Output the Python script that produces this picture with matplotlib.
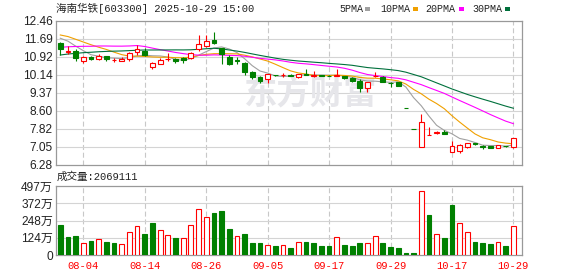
import matplotlib
matplotlib.use("Agg")
import matplotlib.pyplot as plt
from matplotlib.patches import Rectangle
import numpy as np
import pandas as pd

# ---------------- data ----------------
dates = ["07-30", "07-31", "08-01",
         "08-04", "08-05", "08-06", "08-07", "08-08",
         "08-11", "08-12", "08-13", "08-14", "08-15",
         "08-18", "08-19", "08-20", "08-21", "08-22",
         "08-25", "08-26", "08-27", "08-28", "08-29",
         "09-01", "09-02", "09-03", "09-04", "09-05",
         "09-08", "09-09", "09-10", "09-11", "09-12",
         "09-15", "09-16", "09-17", "09-18", "09-19",
         "09-22", "09-23", "09-24", "09-25", "09-26",
         "09-29", "09-30", "10-09", "10-10",
         "10-13", "10-14", "10-15", "10-16", "10-17",
         "10-20", "10-21", "10-22", "10-23", "10-24",
         "10-27", "10-28", "10-29"]

open_ = [11.52, 11.13, 11.19, 10.76, 10.92, 10.84, 10.96, 10.78, 10.73, 10.83,
         11.13, 11.17, 10.50, 10.62, 10.83, 10.84, 10.86, 10.87, 11.26, 11.40,
         11.65, 11.29, 10.93, 10.80, 10.64, 10.25, 10.04, 9.96, 10.15, 10.14,
         10.16, 10.06, 10.20, 10.10, 10.14, 10.12, 10.11, 10.10, 10.03, 9.88,
         9.57, 10.09, 10.04, 9.80, 9.83, 8.71, 7.84, 7.07, 7.56, 7.67,
         7.71, 6.85, 6.90, 7.07, 7.22, 7.10, 7.09, 7.02, 7.10, 7.07]
high = [11.55, 11.39, 11.25, 10.96, 10.94, 11.03, 10.97, 10.87, 10.90, 11.14,
        11.42, 11.30, 10.70, 10.86, 11.07, 10.86, 10.92, 11.13, 11.87, 11.87,
        11.97, 11.30, 10.99, 10.93, 10.71, 10.32, 10.11, 10.20, 10.16, 10.22,
        10.18, 10.19, 10.39, 10.31, 10.16, 10.13, 10.40, 10.12, 10.05, 9.97,
        9.85, 10.28, 10.12, 9.85, 9.84, 8.71, 7.84, 8.47, 7.90, 7.75,
        7.78, 7.31, 7.17, 7.22, 7.23, 7.12, 7.11, 7.14, 7.11, 7.43]
low = [11.00, 11.03, 10.76, 10.67, 10.77, 10.77, 10.76, 10.69, 10.73, 10.76,
       11.00, 10.96, 10.41, 10.60, 10.76, 10.65, 10.65, 10.84, 11.19, 11.33,
       11.46, 10.63, 10.58, 10.63, 10.16, 9.97, 9.80, 9.79, 10.11, 10.07,
       10.10, 10.03, 10.14, 10.07, 10.10, 10.08, 10.10, 9.98, 9.83, 9.43,
       9.43, 10.04, 9.84, 9.61, 9.66, 8.71, 7.84, 7.06, 7.56, 7.61,
       7.62, 6.85, 6.78, 7.02, 7.15, 6.95, 7.00, 7.00, 7.06, 7.02]
close = [11.25, 11.17, 10.89, 10.92, 10.83, 10.94, 10.84, 10.79, 10.83, 11.07,
         11.26, 11.01, 10.67, 10.79, 10.84, 10.76, 10.80, 11.07, 11.49, 11.61,
         11.53, 11.04, 10.62, 10.73, 10.28, 10.04, 9.90, 10.17, 10.13, 10.15,
         10.12, 10.17, 10.16, 10.14, 10.12, 10.10, 10.13, 10.00, 9.88, 9.57,
         9.83, 10.11, 9.85, 9.78, 9.68, 8.71, 7.84, 8.11, 7.57, 7.69,
         7.62, 7.10, 7.12, 7.21, 7.17, 7.05, 7.03, 7.12, 7.08, 7.42]
# closes of the 29 sessions before the window (estimated from the MA lines)
hist_close = [9.90, 10.00, 10.08, 10.25, 10.30, 10.40, 10.45, 10.60, 10.62, 10.80,
              10.70, 10.65, 10.75, 10.80, 10.70, 10.85, 10.90, 10.85, 10.90, 10.90,
              11.85, 12.05, 12.10, 12.00, 12.00, 11.80, 11.95, 11.90, 11.70]
volume_wan = [216, 130, 137, 84, 103, 113, 94, 86, 77, 166,
              206, 151, 230, 178, 142, 122, 120, 214, 329, 271,
              302, 317, 187, 134, 151, 86, 86, 70, 65, 70,
              50, 91, 94, 86, 65, 65, 127, 72, 65, 86,
              84, 134, 86, 58, 50, 14, 14, 458, 288, 149,
              122, 360, 228, 163, 94, 86, 79, 91, 65, 206.9111]
last_volume = 2069111

price_tick_labels = ["6.28", "7.05", "7.82", "8.60", "9.37", "10.14", "10.92", "11.69", "12.46"]
vol_tick_labels = ["0", "124万", "248万", "372万", "497万"]
date_tick_labels = ["08-04", "08-14", "08-26", "09-05", "09-17", "09-29", "10-17", "10-29"]
ma_periods = [5, 10, 20, 30]
ma_names = ["5PMA", "10PMA", "20PMA", "30PMA"]
title = "海南华铁[603300] 2025-10-29 15:00"

# ---------------- style ----------------
W, H = 578, 276
RED = "#ff0000"
GREEN = "#008000"
MA_COLORS = ["#a0a0a0", "#f0a000", "#ff00ff", "#00703c"]
FRAME = "#999999"
GRID = "#d4d4d4"
VGRID = "#c8c8c8"
MONO = ["Liberation Mono", "Noto Sans CJK SC"]
SANS = ["Liberation Sans", "Noto Sans CJK SC"]


def fx(x):
    return x / W


def fy(y):
    return 1 - y / H


fig = plt.figure(figsize=(W / 100, H / 100), dpi=100)
fig.patch.set_facecolor("white")

ax_p = fig.add_axes([fx(56), fy(165), (522 - 56) / W, (165 - 21) / H])
ax_v = fig.add_axes([fx(56), fy(255), (522 - 56) / W, (255 - 186) / H])

n = len(close)
x = np.arange(n)
xlim = (-0.56, 60.12)

p_lo, p_hi = float(price_tick_labels[0]), float(price_tick_labels[-1])
p_ticks = np.linspace(p_lo, p_hi, len(price_tick_labels))
v_top = float(vol_tick_labels[-1].replace("万", ""))
v_ticks = np.linspace(0, v_top, len(vol_tick_labels))
date_idx = [dates.index(d) for d in date_tick_labels]

for ax in (ax_p, ax_v):
    ax.set_xlim(*xlim)
    for s in ax.spines.values():
        s.set_color(FRAME)
        s.set_linewidth(0.9)
    ax.tick_params(length=0)
    for xi in date_idx:
        ax.axvline(xi, color=VGRID, lw=0.8, ls=(0, (4.5, 2.5)), zorder=0)

# price panel
ax_p.set_ylim(p_lo, p_hi)
for t in p_ticks[1:-1]:
    ax_p.axhline(t, color=GRID, lw=0.8, zorder=0)
ax_p.set_yticks(p_ticks)
ax_p.set_yticklabels(price_tick_labels, fontsize=8.6, family=SANS, color="#222222")
ax_p.tick_params(axis="y", pad=2.2)
ax_p.set_xticks([])

# watermark
ax_p.text(0.545, 0.485, "东方财富", transform=ax_p.transAxes, fontsize=24,
          family=["Noto Sans CJK SC"], fontweight="bold", color="#e6e6ea",
          ha="center", va="center", zorder=0.5)

# moving averages
all_close = pd.Series(hist_close + close)
for p, col in zip(ma_periods, MA_COLORS):
    ma = all_close.rolling(p).mean().to_numpy()[-n:]
    ax_p.plot(x, ma, color=col, lw=0.8, zorder=2)

# candles
prev = [hist_close[-1]] + close[:-1]
w = 0.62
for i in range(n):
    o, h, l, c = open_[i], high[i], low[i], close[i]
    up = c > o or (c == o and c >= prev[i])
    col = RED if up else GREEN
    ax_p.vlines(i, l, h, color=col, lw=0.8, zorder=3)
    bottom = min(o, c)
    ax_p.bar(i, abs(c - o), bottom=bottom, width=w,
             facecolor="white" if up else GREEN, edgecolor=col,
             lw=0.8, zorder=4)

# volume panel
ax_v.set_ylim(0, v_top)
for t in v_ticks[1:-1]:
    ax_v.axhline(t, color=GRID, lw=0.8, zorder=0)
ax_v.set_yticks(v_ticks)
ax_v.set_yticklabels(vol_tick_labels, fontsize=8.6, family=SANS, color="#222222")
ax_v.tick_params(axis="y", pad=2.2)
for i in range(n):
    up = close[i] >= prev[i]
    col = RED if up else GREEN
    ax_v.bar(i, volume_wan[i], width=w, facecolor="white" if up else GREEN,
             edgecolor=col, lw=0.8, zorder=3)
ax_v.set_xticks(date_idx)
ax_v.set_xticklabels(date_tick_labels, fontsize=7.6, family=MONO, color=RED)
ax_v.tick_params(axis="x", pad=4)

# texts
fig.text(fx(56), fy(8.5), title, fontsize=7.6, family=MONO, color="#222222",
         ha="left", va="center")
fig.text(fx(57), fy(177), f"成交量:{last_volume}", fontsize=7.6, family=MONO,
         color="#222222", ha="left", va="center")

leg_x = [339, 380, 425, 472]
sq_x = [365, 413, 459, 505]
for name, col, lx, sx in zip(ma_names, MA_COLORS, leg_x, sq_x):
    fig.text(fx(lx), fy(8.5), name, fontsize=7.2, family=MONO, color="#222222",
             ha="left", va="center")
    fig.patches.append(Rectangle((fx(sx), fy(10.5)), 5 / W, 3.5 / H,
                                 transform=fig.transFigure, facecolor=col,
                                 edgecolor="none"))

fig.savefig("out.png", dpi=100, facecolor="white")
